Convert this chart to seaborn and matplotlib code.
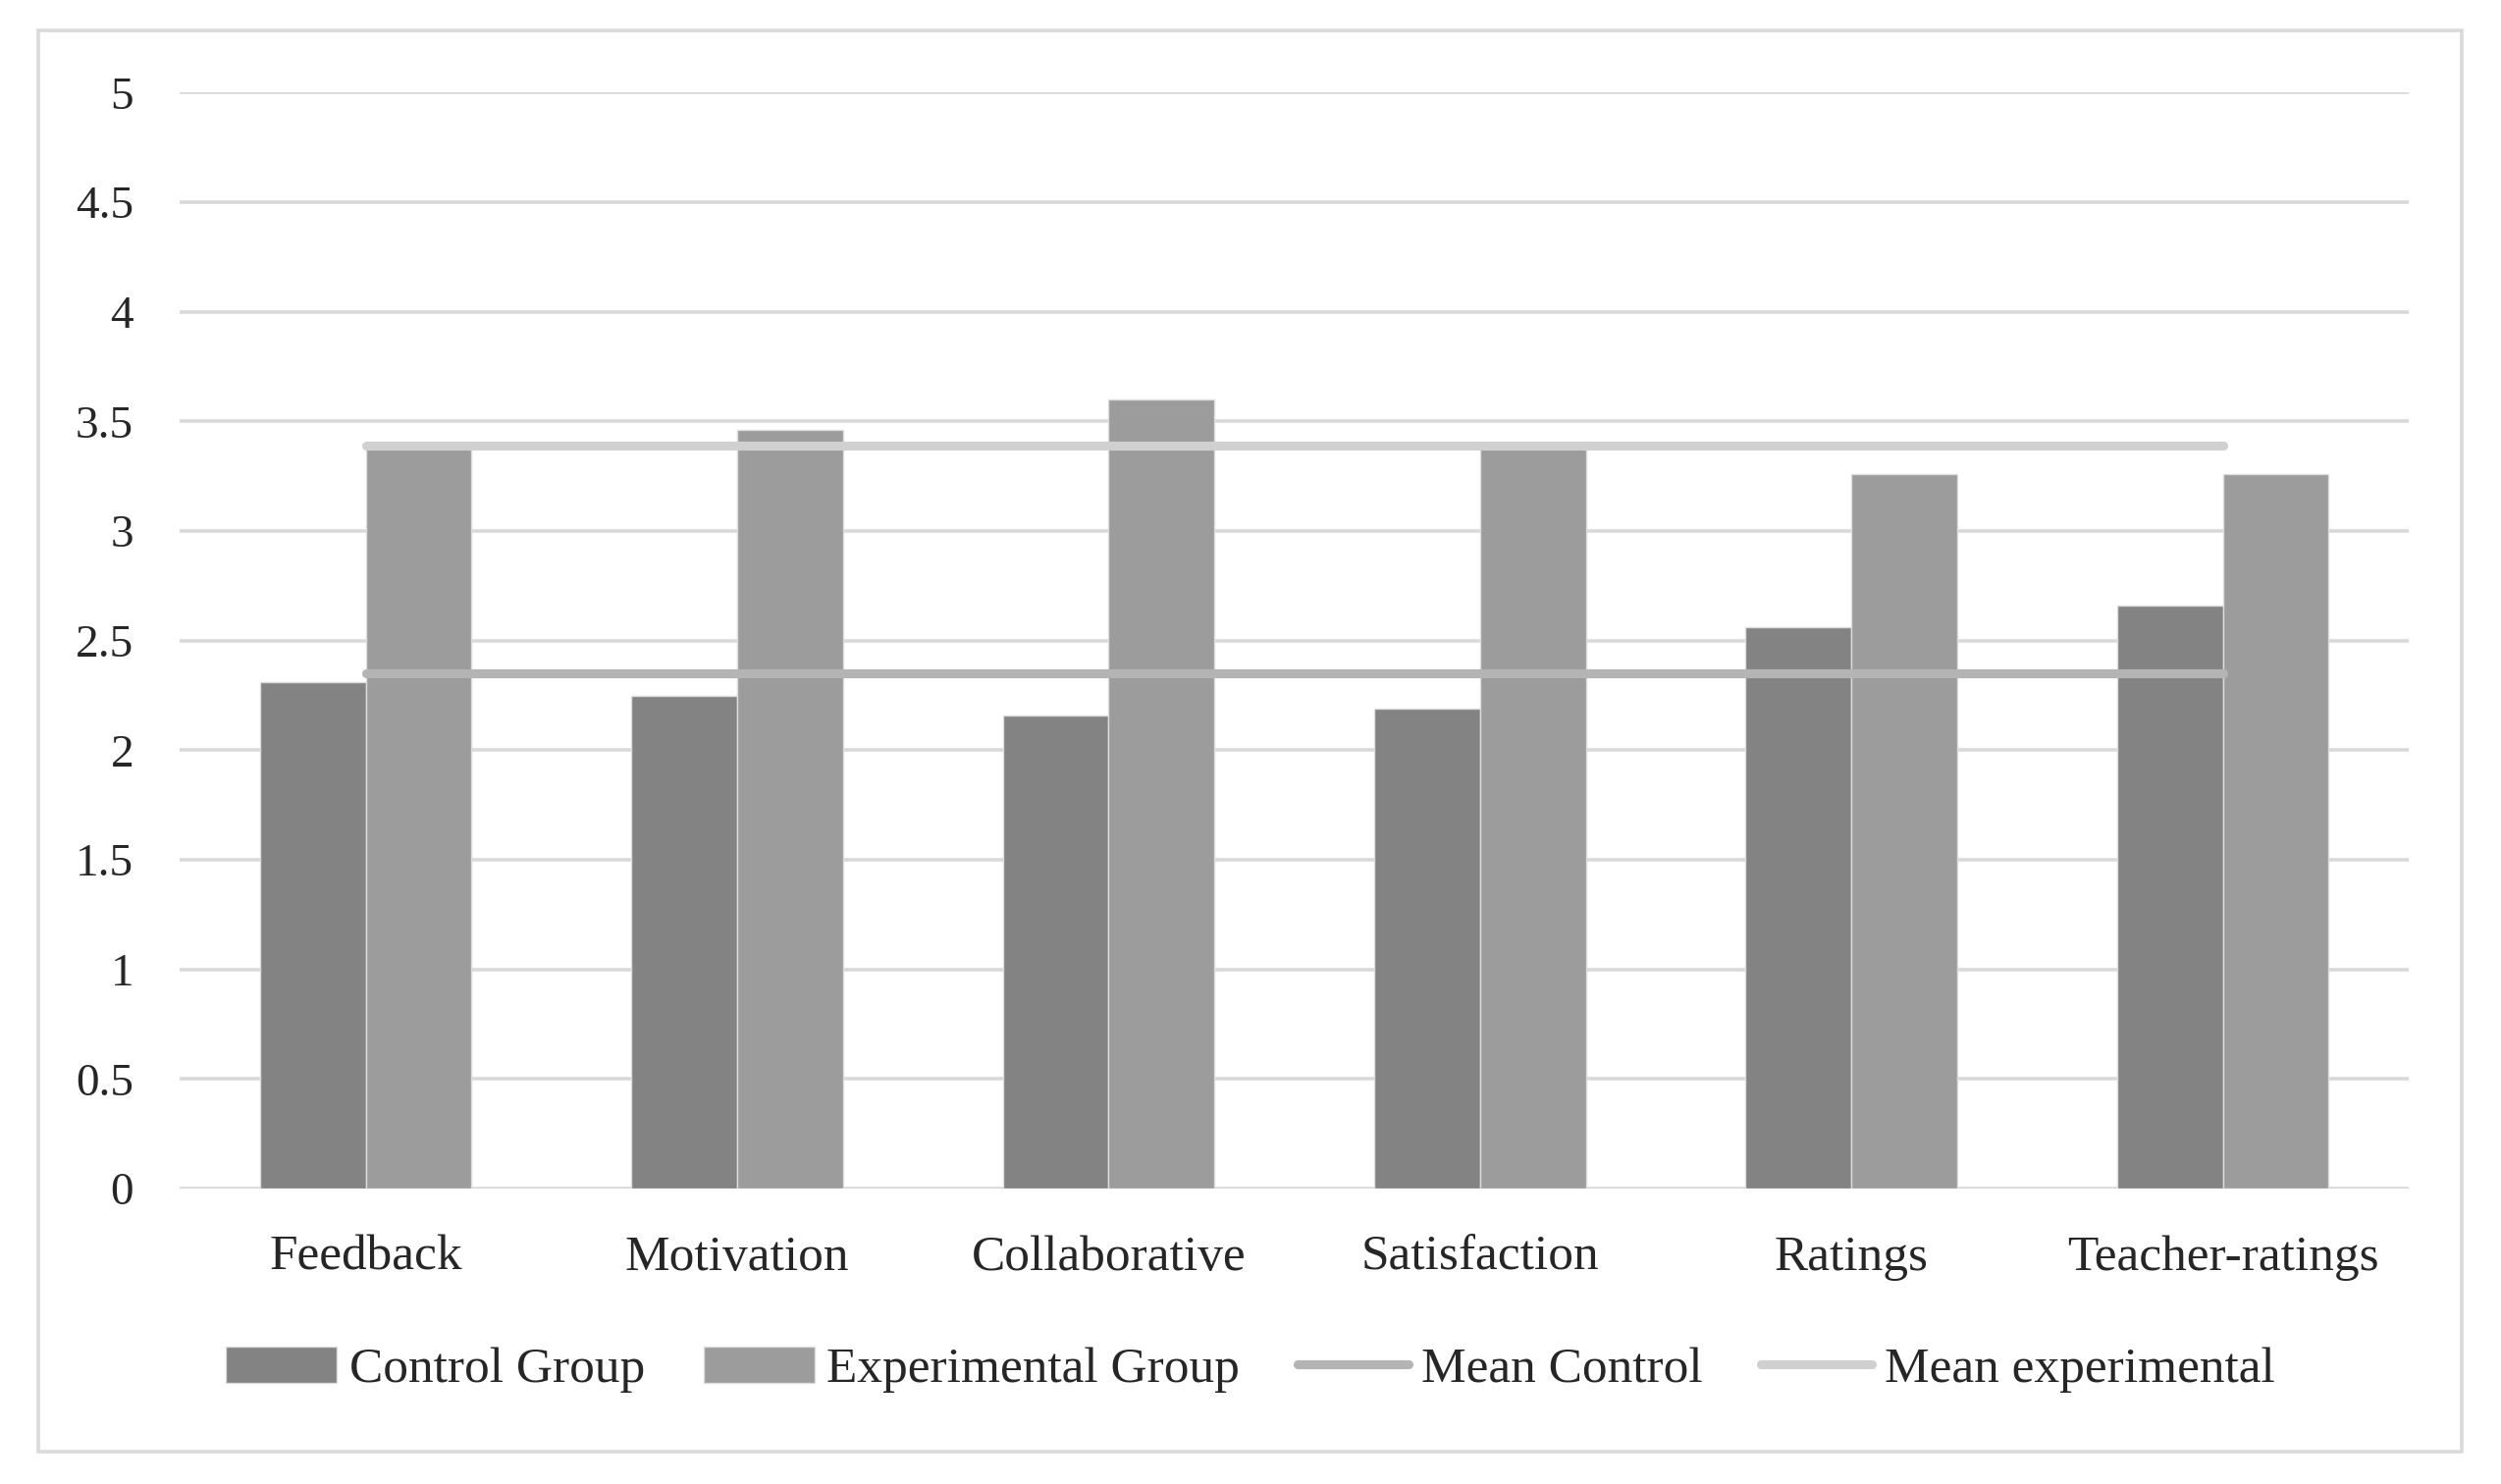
import numpy as np
import pandas as pd
import matplotlib.pyplot as plt
import seaborn as sns
from matplotlib.patches import Patch, Rectangle
from matplotlib.lines import Line2D

# Data
categories = ['Feedback', 'Motivation', 'Collaborative', 'Satisfaction', 'Ratings', 'Teacher-ratings']
control_group = [2.31, 2.25, 2.16, 2.19, 2.56, 2.66]
experimental_group = [3.38, 3.46, 3.60, 3.38, 3.26, 3.26]
mean_control = [2.35, 2.35, 2.35, 2.35, 2.35, 2.35]
mean_experimental = [3.39, 3.39, 3.39, 3.39, 3.39, 3.39]
y_ticks = [0, 0.5, 1, 1.5, 2, 2.5, 3, 3.5, 4, 4.5, 5]
y_tick_labels = ['0', '0.5', '1', '1.5', '2', '2.5', '3', '3.5', '4', '4.5', '5']

# Warna
c_control = '#838383'
c_exp = '#9c9c9c'
c_mean_control = '#b4b4b4'
c_mean_exp = '#d0d0d0'
c_grid = '#d9d9d9'

sns.set_style("white")
plt.rcParams['font.family'] = ['Liberation Serif', 'DejaVu Serif']

df = pd.DataFrame({
    'category': categories * 2,
    'score': control_group + experimental_group,
    'group': ['Control Group'] * len(categories) + ['Experimental Group'] * len(categories),
})

fig = plt.figure(figsize=(12.74, 7.56), dpi=200)
ax = fig.add_axes([0.072, 0.199, 0.891, 0.7386])

sns.barplot(data=df, x='category', y='score', hue='group', palette=[c_control, c_exp],
            width=0.57, gap=0, edgecolor='#dddddd', linewidth=0.5, saturation=1,
            legend=False, ax=ax, zorder=2)

# Garis rata-rata
x_pos = np.arange(len(categories))
ax.plot(x_pos, mean_control, color=c_mean_control, lw=3.3, solid_capstyle='round', zorder=3)
ax.plot(x_pos, mean_experimental, color=c_mean_exp, lw=3.3, solid_capstyle='round', zorder=3)

ax.set_xlim(-0.5, len(categories) - 0.5)
ax.set_ylim(0, 5)
ax.set_yticks(y_ticks)
ax.set_yticklabels(y_tick_labels)
ax.yaxis.grid(True, color=c_grid, lw=1.3)
ax.set_axisbelow(True)
for s in ax.spines.values():
    s.set_visible(False)
ax.tick_params(axis='y', length=0, pad=17, labelsize=17)
ax.tick_params(axis='x', length=0, pad=17, labelsize=18.5)
ax.set_xlabel('')
ax.set_ylabel('')

handles = [
    Patch(facecolor=c_control, edgecolor='#dddddd', linewidth=0.5),
    Patch(facecolor=c_exp, edgecolor='#dddddd', linewidth=0.5),
    Line2D([0], [0], color=c_mean_control, lw=3.3, solid_capstyle='round'),
    Line2D([0], [0], color=c_mean_exp, lw=3.3, solid_capstyle='round'),
]
labels = ['Control Group', 'Experimental Group', 'Mean Control', 'Mean experimental']
fig.legend(handles, labels, loc='center', bbox_to_anchor=(0.5, 0.077), ncol=4,
           frameon=False, fontsize=18.5, handlelength=2.2, handleheight=0.75,
           handletextpad=0.25, columnspacing=1.15)

# Bingkai luar
fig.patches.append(Rectangle((0.0153, 0.0215), 0.969, 0.958, transform=fig.transFigure,
                             fill=False, edgecolor=c_grid, lw=1.3))

plt.savefig('out.png', dpi=200)
